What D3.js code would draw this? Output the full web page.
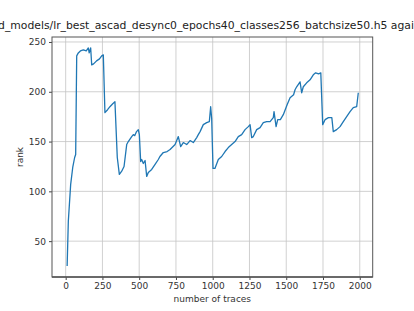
<!DOCTYPE html>
<html>
<head>
<meta charset="utf-8">
<script src="https://cdn.jsdelivr.net/npm/d3@7"></script>
<style>
  body { margin: 0; background: #fff; overflow: hidden; }
  svg { font-family: "DejaVu Sans", sans-serif; display: block; }
</style>
</head>
<body>
<div id="chart-container"></div>
<script>
// number of traces vs. rank
const traces = [10, 18, 34, 48, 61, 68, 75, 86, 100, 120, 140, 154, 160, 170, 177, 190, 210, 230, 245, 256,
  267, 285, 301, 320, 335, 351, 365, 380, 397, 415, 426, 449, 460, 470, 482, 494, 501, 510, 517, 528,
  540, 551, 562, 585, 608, 630, 641, 664, 690, 710, 744, 766, 782, 800, 823, 846, 868, 891, 902, 914,
  936, 959, 977, 986, 993, 1002, 1015, 1038, 1061, 1084, 1106, 1129, 1152, 1174, 1197, 1220, 1242, 1254, 1265, 1276,
  1299, 1322, 1344, 1367, 1390, 1412, 1417, 1431, 1442, 1460, 1480, 1506, 1526, 1550, 1560, 1571, 1594, 1605, 1616, 1639,
  1662, 1684, 1700, 1720, 1735, 1748, 1764, 1787, 1810, 1820, 1843, 1866, 1888, 1911, 1934, 1956, 1979, 1990];
const rank = [25, 70, 107, 124, 134, 137, 236, 239, 241, 242, 241, 244, 239, 244, 227, 228, 231, 233, 236, 237,
  179, 182, 185, 188, 190, 134, 117, 120, 125, 147, 150, 155, 157, 156, 160, 162, 157, 130, 132, 128,
  131, 115, 119, 122, 127, 132, 135, 139, 140, 142, 147, 155, 145, 149, 147, 151, 149, 154, 157, 160,
  167, 169, 170, 185, 173, 123, 123, 132, 135, 140, 144, 147, 150, 155, 157, 162, 165, 167, 154, 155,
  162, 164, 169, 170, 170, 174, 180, 165, 172, 172, 177, 187, 194, 197, 202, 205, 210, 199, 205, 209,
  212, 217, 219, 218, 219, 167, 172, 174, 174, 160, 162, 165, 170, 175, 180, 184, 185, 199];
const xTicks = [0, 250, 500, 750, 1000, 1250, 1500, 1750, 2000];
const yTicks = [50, 100, 150, 200, 250];

const W = 414, H = 311;
const margin = { top: 37, right: 41.3, bottom: 34, left: 52 };
const width = W - margin.left - margin.right;
const height = H - margin.top - margin.bottom;

const svg = d3.select("#chart-container")
  .append("svg")
  .attr("width", W)
  .attr("height", H);

const g = svg.append("g")
  .attr("transform", `translate(${margin.left},${margin.top})`);

const x = d3.scaleLinear().domain([-93, 2088]).range([0, width]);
const y = d3.scaleLinear().domain([14, 255]).range([height, 0]);

// grid
g.append("g").selectAll("line").data(xTicks).enter().append("line")
  .attr("x1", d => x(d)).attr("x2", d => x(d))
  .attr("y1", 0).attr("y2", height)
  .attr("stroke", "#c4c4c4").attr("stroke-width", 0.8);
g.append("g").selectAll("line").data(yTicks).enter().append("line")
  .attr("y1", d => y(d)).attr("y2", d => y(d))
  .attr("x1", 0).attr("x2", width)
  .attr("stroke", "#c4c4c4").attr("stroke-width", 0.8);

// axes
const xAxis = d3.axisBottom(x).tickValues(xTicks).tickFormat(d3.format("d")).tickSize(3).tickPadding(3);
const yAxis = d3.axisLeft(y).tickValues(yTicks).tickFormat(d3.format("d")).tickSize(3).tickPadding(3);

const gx = g.append("g").attr("transform", `translate(0,${height})`).call(xAxis);
const gy = g.append("g").call(yAxis);
[gx, gy].forEach(a => {
  a.select(".domain").remove();
  a.selectAll("line").attr("stroke", "#444");
  a.selectAll("text").attr("fill", "#333")
    .style("font-size", "9px").style("font-family", "DejaVu Sans");
});

// line
const line = d3.line()
  .x((d, i) => x(traces[i]))
  .y(d => y(d));

g.append("path")
  .datum(rank)
  .attr("fill", "none")
  .attr("stroke", "#1f77b4")
  .attr("stroke-width", 1.3)
  .attr("stroke-linejoin", "round")
  .attr("d", line);

// frame
g.append("rect")
  .attr("width", width).attr("height", height)
  .attr("fill", "none").attr("stroke", "#555").attr("stroke-width", 1);
g.append("line")
  .attr("x1", 0).attr("x2", width).attr("y1", height).attr("y2", height)
  .attr("stroke", "#555").attr("stroke-width", 1.6);

// labels
svg.append("text")
  .attr("x", margin.left + width / 2 + 3)
  .attr("y", 29)
  .attr("text-anchor", "middle")
  .style("font-size", "10.8px")
  .attr("fill", "#222")
  .text("./trained_models/lr_best_ascad_desync0_epochs40_classes256_batchsize50.h5 against ASCAD");

svg.append("text")
  .attr("x", margin.left + width / 2)
  .attr("y", 302)
  .attr("text-anchor", "middle")
  .style("font-size", "9px")
  .attr("fill", "#333")
  .text("number of traces");

svg.append("text")
  .attr("transform", `translate(23,${margin.top + height / 2}) rotate(-90)`)
  .attr("text-anchor", "middle")
  .style("font-size", "9px")
  .attr("fill", "#333")
  .text("rank");
</script>
</body>
</html>
